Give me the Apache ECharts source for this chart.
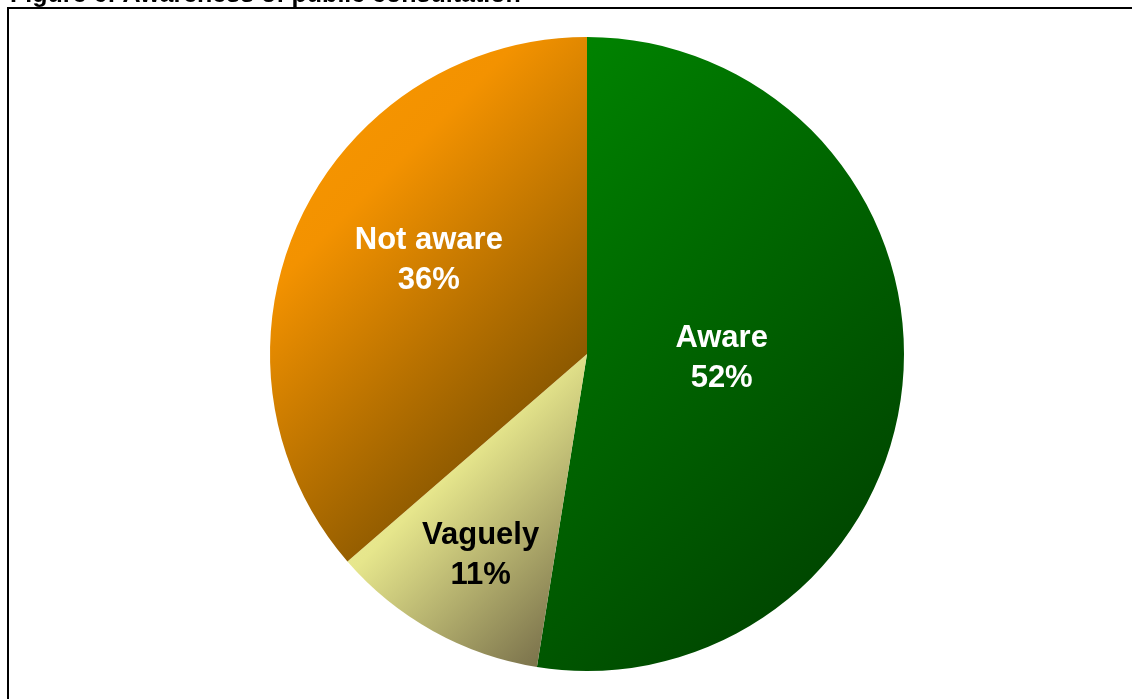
<!DOCTYPE html>
<html>
<head>
<meta charset="utf-8">
<script src="https://cdn.jsdelivr.net/npm/echarts@6/dist/echarts.min.js"></script>
<style>
  html, body { margin: 0; padding: 0; background: #ffffff; }
  #chart { width: 1132px; height: 699px; }
</style>
</head>
<body>
<div id="chart"></div>
<script>
// Survey responses: awareness of the public consultation (percent)
const categories = ['Aware', 'Vaguely', 'Not aware'];
const percents = [52, 11, 36];

// Per-slice 45-degree shading (top-left light -> bottom-right dark)
const sliceStops = [
  [[0, '#008600'], [1, '#003a00']],
  [[0, '#F4F4A8'], [0.4, '#E6E68C'], [0.875, '#827A50'], [1, '#6C6640']],
  [[0, '#FA9800'], [0.3, '#F39200'], [0.75, '#8E5A00'], [1, '#6A4400']]
];
const labelColors = ['#ffffff', '#000000', '#ffffff'];
// Label placement in polar terms: fraction of radius, angle shift (deg) from slice middle
const labelRadius = [0.425, 0.72, 0.58];
const labelShift = [-2.8, -1.3, 6.1];

const center = [587, 354];
const radius = 317;

const total = percents.reduce((a, b) => a + b, 0);
const startAngles = [], endAngles = [], midAngles = [];
let acc = 0;
percents.forEach(v => {
  startAngles.push(acc / total * 360);
  midAngles.push((acc + v / 2) / total * 360);
  acc += v;
  endAngles.push(acc / total * 360);
});

// Point on the circle for a clockwise angle measured from 12 o'clock
function polar(deg, r) {
  const a = deg * Math.PI / 180;
  return [center[0] + r * Math.sin(a), center[1] - r * Math.cos(a)];
}

// Bounding box of a slice, used to stretch its gradient
function sliceBox(a0, a1) {
  const pts = [center.slice(), polar(a0, radius), polar(a1, radius)];
  [0, 90, 180, 270, 360].forEach(c => { if (c > a0 && c < a1) pts.push(polar(c, radius)); });
  const xs = pts.map(p => p[0]), ys = pts.map(p => p[1]);
  return { x: Math.min(...xs), y: Math.min(...ys), w: Math.max(...xs) - Math.min(...xs), h: Math.max(...ys) - Math.min(...ys) };
}

function sliceGradient(i) {
  const b = sliceBox(startAngles[i], endAngles[i]);
  const L = (b.w + b.h) / 2;
  return {
    type: 'linear', global: true,
    x: b.x, y: b.y, x2: b.x + L, y2: b.y + L,
    colorStops: sliceStops[i].map(s => ({ offset: s[0], color: s[1] }))
  };
}

const chart = echarts.init(document.getElementById('chart'), null, { renderer: 'canvas' });

chart.setOption({
  animation: false,
  backgroundColor: '#ffffff',
  graphic: [
    {
      type: 'text',
      left: 10,
      top: -17,
      style: {
        text: 'Figure 6: Awareness of public consultation',
        font: 'bold 25px "Liberation Sans", Arial, sans-serif',
        fill: '#000000'
      }
    },
    {
      type: 'rect',
      shape: { x: 8, y: 8, width: 1300, height: 900 },
      style: { fill: 'none', stroke: '#000000', lineWidth: 2 }
    }
  ],
  series: [{
    type: 'pie',
    center: center,
    radius: radius,
    startAngle: 90,
    clockwise: true,
    avoidLabelOverlap: false,
    labelLine: { show: false },
    data: categories.map((name, i) => ({
      name: name,
      value: percents[i],
      itemStyle: { color: sliceGradient(i) },
      label: { color: labelColors[i] }
    })),
    label: {
      show: true,
      position: 'inside',
      formatter: '{b}\n{c}%',
      fontFamily: '"Liberation Sans", Arial, sans-serif',
      fontWeight: 'bold',
      fontSize: 31,
      lineHeight: 40,
      align: 'center'
    },
    labelLayout: function (params) {
      const i = params.dataIndex;
      const p = polar(midAngles[i] + labelShift[i], radius * labelRadius[i]);
      return { x: p[0], y: p[1], align: 'center', verticalAlign: 'middle' };
    },
    emphasis: { disabled: true }
  }]
});
</script>
</body>
</html>
